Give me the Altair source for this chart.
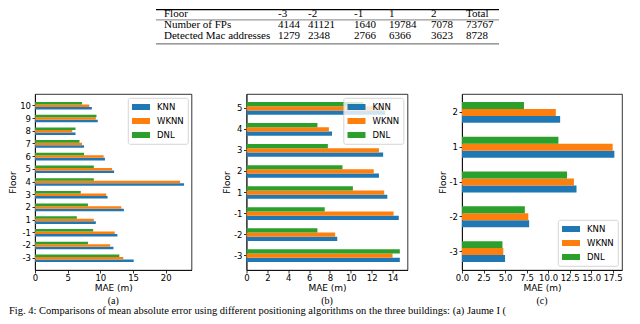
import altair as alt
import pandas as pd

# ---------------- data ----------------
ALGOS = ["KNN", "WKNN", "DNL"]
COLORS = ["#1f77b4", "#ff7f0e", "#2ca02c"]

floors_a = ["-3", "-2", "-1", "1", "2", "3", "4", "5", "6", "7", "8", "9", "10"]
knn_a = [15.1, 12.0, 12.6, 9.3, 13.6, 11.1, 22.8, 12.1, 10.7, 7.5, 6.2, 9.6, 8.7]
wknn_a = [13.5, 11.5, 12.2, 9.0, 13.2, 10.9, 22.2, 11.8, 10.5, 7.2, 5.7, 9.3, 8.3]
dnl_a = [12.9, 8.1, 8.9, 6.4, 8.1, 7.0, 9.0, 9.0, 7.5, 6.8, 6.2, 9.4, 7.2]

floors_b = ["-3", "-2", "-1", "1", "2", "3", "4", "5"]
knn_b = [14.7, 8.7, 14.6, 13.5, 12.7, 13.1, 8.2, 13.3]
wknn_b = [14.0, 8.5, 14.1, 13.2, 12.2, 12.7, 7.9, 13.0]
dnl_b = [14.7, 6.8, 7.5, 10.2, 9.2, 7.8, 6.8, 11.2]

floors_c = ["-3", "-2", "-1", "1", "2"]
knn_c = [5.0, 7.8, 13.3, 17.7, 11.4]
wknn_c = [4.8, 7.7, 13.0, 17.5, 10.9]
dnl_c = [4.7, 7.3, 12.2, 11.2, 7.2]

ticks_a = [0, 5, 10, 15, 20]
ticks_b = [0, 2, 4, 6, 8, 10, 12, 14]
ticks_c = [0, 2.5, 5, 7.5, 10, 12.5, 15, 17.5]

table_header = ["Floor", "-3", "-2", "-1", "1", "2", "Total"]
table_fps = ["Number of FPs", "4144", "41121", "1640", "19784", "7078", "73767"]
table_macs = ["Detected Mac addresses", "1279", "2348", "2766", "6366", "3623", "8728"]

letters = ["(a)", "(b)", "(c)"]
caption = ("Fig. 4: Comparisons of mean absolute error using different positioning "
           "algorithms on the three buildings: (a) Jaume I (")

# ---------------- layout ----------------
H = 176
WA, WB, WC = 156.5, 161, 160
SPACING = 54.5
A_LEFT, B_LEFT, TOP = 34.5, 245.5, 93.1
SERIF = "Liberation Serif"
SANS = "DejaVu Sans"
LETTER_Y = 207
CAPTION_Y = 217.3

one = pd.DataFrame({"k": [0]})


def text_mark(txt, x, y, size, align="left", **kw):
    return alt.Chart(pd.DataFrame({"t": [txt]})).mark_text(
        font=SERIF, fontSize=size, align=align, baseline="middle", color="black", **kw
    ).encode(text="t:N", x=alt.value(x), y=alt.value(y))


def rule_mark(x1, x2, y, w, color="black"):
    return alt.Chart(one).mark_rule(color=color, strokeWidth=w).encode(
        x=alt.value(x1), x2=alt.value(x2), y=alt.value(y)
    )


def panel(floors, knn, wknn, dnl, width, ticks, fmt, orient):
    rows = []
    for f, k, w, d in zip(floors, knn, wknn, dnl):
        rows += [(f, "KNN", k), (f, "WKNN", w), (f, "DNL", d)]
    df = pd.DataFrame(rows, columns=["Floor", "Algo", "MAE"])
    n = len(floors)
    po = 0.05 * (n - 1 + 0.6)
    xmax = max(knn + wknn + dnl) * 1.05
    return alt.Chart(df).mark_bar().encode(
        x=alt.X("MAE:Q",
                scale=alt.Scale(domain=[0, xmax], nice=False, zero=True),
                axis=alt.Axis(values=ticks, format=fmt, title="MAE (m)")),
        y=alt.Y("Floor:N", sort=floors[::-1],
                scale=alt.Scale(type="band", paddingInner=0.4, paddingOuter=po),
                axis=alt.Axis(title="Floor")),
        yOffset=alt.YOffset("Algo:N", sort=["DNL", "WKNN", "KNN"],
                            scale=alt.Scale(paddingInner=0, paddingOuter=0)),
        color=alt.Color("Algo:N", scale=alt.Scale(domain=ALGOS, range=COLORS),
                        legend=alt.Legend(title=None, orient=orient, offset=4)),
    ).properties(width=width, height=H)


bars_a = panel(floors_a, knn_a, wknn_a, dnl_a, WA, ticks_a, "d", "top-right")
bars_b = panel(floors_b, knn_b, wknn_b, dnl_b, WB, ticks_b, "d", "top-right")
bars_c = panel(floors_c, knn_c, wknn_c, dnl_c, WC, ticks_c, ".1f", "bottom-right")

# figure caption (in panel a coordinates)
cap = text_mark(caption, 8.5 - A_LEFT, CAPTION_Y, 10.5, limit=623, ellipsis="")

# table (in panel b coordinates)
col_x = [163, 277, 307, 353, 388, 430, 465]
row_y = [13.5, 24.5, 35.5]
table_layers = [
    rule_mark(155 - B_LEFT, 498 - B_LEFT, 8.7 - TOP, 1.2),
    rule_mark(155 - B_LEFT, 498 - B_LEFT, 19 - TOP, 0.5),
    rule_mark(155 - B_LEFT, 498 - B_LEFT, 43 - TOP, 0.8, "#333333"),
]
for r, row in enumerate([table_header, table_fps, table_macs]):
    for c, cell in enumerate(row):
        table_layers.append(text_mark(cell, col_x[c] - B_LEFT, row_y[r] - TOP, 11))

pa = alt.layer(bars_a, text_mark(letters[0], WA / 2, LETTER_Y, 10, "center"), cap)
pb = alt.layer(bars_b, text_mark(letters[1], WB / 2, LETTER_Y, 10, "center"), *table_layers)
pc = alt.layer(bars_c, text_mark(letters[2], WC / 2, LETTER_Y, 10, "center"))

chart = alt.hconcat(pa, pb, pc, spacing=SPACING, bounds="flush").resolve_scale(
    x="independent", y="independent", color="independent", yOffset="independent"
).resolve_legend(color="independent").resolve_axis(
    x="independent", y="independent"
).properties(padding=0).configure_view(
    stroke="black", strokeWidth=0.8
).configure_axis(
    labelFont=SANS, labelFontSize=8.5, labelColor="black",
    titleFont=SANS, titleFontSize=9, titleFontWeight="normal", titleColor="black",
    tickColor="black", tickSize=3, tickWidth=0.8,
    domainColor="black", domainWidth=0.8, grid=False,
    labelOverlap=False, labelFlush=False,
).configure_axisX(
    labelPadding=0, titlePadding=1.5,
).configure_axisY(
    labelPadding=1.5, titlePadding=2,
).configure_legend(
    fillColor="rgba(255,255,255,0.8)", strokeColor="#cccccc", strokeWidth=0.8,
    cornerRadius=2, padding=4,
    labelFont=SANS, labelFontSize=8.5, labelColor="black",
    symbolType="M-1,-0.6H2.6V0.6H-1Z", symbolSize=100, symbolStrokeWidth=0,
    symbolOpacity=1, labelOffset=15, rowPadding=4,
)

chart.save("out.html", embed_options={"renderer": "svg", "actions": False})
